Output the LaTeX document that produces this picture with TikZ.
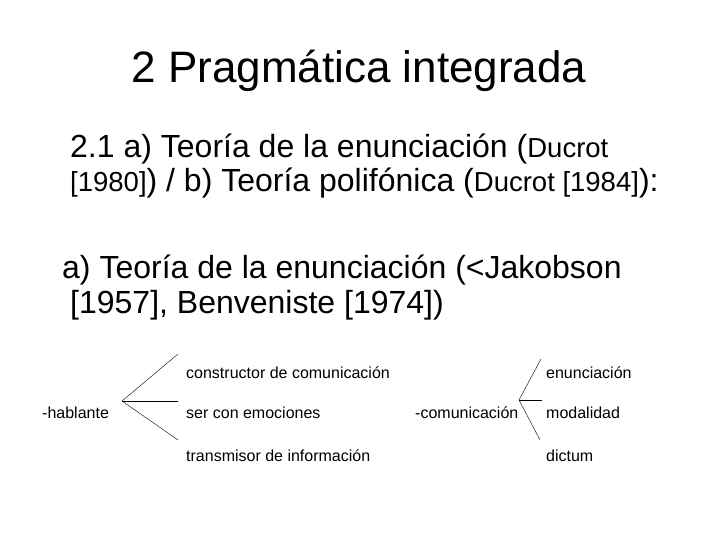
\documentclass[tikz,border=0pt]{standalone}
\usepackage{fontspec}
\setmainfont{Liberation Sans}
\usepackage{tikz}
\usetikzlibrary{positioning}
\tikzstyle{big} = [anchor=base west, inner sep=0pt, font=\fontsize{32}{36}\selectfont]
\tikzstyle{leaf} = [anchor=base west, inner sep=0pt, font=\fontsize{16}{19}\selectfont]
\tikzstyle{branch} = [thin, draw]
\newcommand{\smallref}[1]{{\fontsize{27.5}{32}\selectfont #1}}

\begin{document}
\begin{tikzpicture}[x=1pt, y=-1pt]

\useasboundingbox (0,0) rectangle (720,540);

\node [anchor=base, inner sep=0pt, font=\fontsize{44}{52}\selectfont] (title) at (359,83) {2 Pragmática integrada};

\node [big] (l1) at (70,158) {2.1 a) Teoría de la enunciación (\smallref{Ducrot}};
\node [big] (l2) at (70,192) {\smallref{[1980]}) / b) Teoría polifónica (\smallref{Ducrot [1984]}):};
\node [big] (l3) at (62,278) {a) Teoría de la enunciación (<Jakobson};
\node [big] (l4) at (70,313) {[1957], Benveniste [1974])};

	%hablante
\node [leaf] (hab) at (42,418) {-hablante};
\node [leaf] (constr) at (186,378) {constructor de comunicación};
\node [leaf] (emoc) at (186,418) {ser con emociones};
\node [leaf] (transm) at (186,461) {transmisor de información};

\coordinate (habfork) at (122,401);
\coordinate (habup) at (178,354);
\coordinate (habmid) at (178,401);
\coordinate (habdown) at (178,440);

\path [branch] (habfork) -- (habup);
\path [branch] (habfork) -- (habmid);
\path [branch] (habfork) -- (habdown);

	%comunicacion
\node [leaf] (com) at (415,418) {-comunicación};
\node [leaf] (enun) at (546,378) {enunciación};
\node [leaf] (modal) at (546,418) {modalidad};
\node [leaf] (dict) at (546,461) {dictum};

\coordinate (comfork) at (519,400);
\coordinate (comup) at (541,359);
\coordinate (commid) at (542,400);
\coordinate (comdown) at (540,440);

\path [branch] (comfork) -- (comup);
\path [branch] (comfork) -- (commid);
\path [branch] (comfork) -- (comdown);

\end{tikzpicture}
\end{document}
